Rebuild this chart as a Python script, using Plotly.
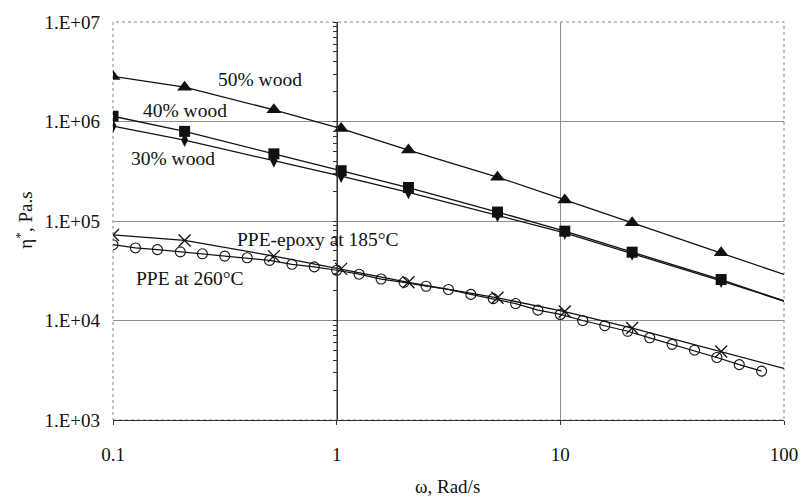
import plotly.graph_objects as go

# Angular frequency of the wood composite / PPE-epoxy sweeps (rad/s)
omega = [0.1, 0.209, 0.524, 1.047, 2.094, 5.236, 10.47, 20.94, 52.36]

# Complex viscosity, Pa.s
wood50 = [2.84e6, 2.21e6, 1.31e6, 8.5e5, 5.17e5, 2.76e5, 1.63e5, 9.6e4, 4.8e4]
wood40 = [1.13e6, 7.96e5, 4.73e5, 3.2e5, 2.17e5, 1.23e5, 7.9e4, 4.86e4, 2.58e4]
wood30 = [9.0e5, 6.5e5, 4.04e5, 2.83e5, 1.94e5, 1.14e5, 7.6e4, 4.7e4, 2.5e4]
ppe_epoxy = [7.24e4, 6.38e4, 4.44e4, 3.3e4, 2.42e4, 1.69e4, 1.23e4, 8.4e3, 4.88e3]

# Fitted curves are carried on to the end of the frequency axis
omega_end = 100
wood50_end = 2.9e4
wood40_end = 1.57e4
wood30_end = 1.57e4
ppe_epoxy_end = 3.3e3

# Neat PPE at 260 °C, ten points per decade
omega_ppe = [0.1, 0.126, 0.158, 0.2, 0.251, 0.316, 0.398, 0.501, 0.631, 0.794,
             1.0, 1.26, 1.58, 2.0, 2.51, 3.16, 3.98, 5.01, 6.31, 7.94,
             10.0, 12.6, 15.8, 20.0, 25.1, 31.6, 39.8, 50.1, 63.1, 79.4]
ppe = [5.78e4, 5.36e4, 5.16e4, 4.90e4, 4.68e4, 4.44e4, 4.27e4, 4.02e4, 3.67e4, 3.46e4,
       3.20e4, 2.92e4, 2.61e4, 2.42e4, 2.21e4, 2.05e4, 1.83e4, 1.66e4, 1.48e4, 1.27e4,
       1.15e4, 1.0e4, 8.87e3, 7.8e3, 6.7e3, 5.76e3, 5.03e3, 4.25e3, 3.6e3, 3.1e3]

x_ticks = [0.1, 1, 10, 100]
x_tick_text = ["0.1", "1", "10", "100"]
y_ticks = [1e3, 1e4, 1e5, 1e6, 1e7]
y_tick_text = ["1.E+03", "1.E+04", "1.E+05", "1.E+06", "1.E+07"]

FONT = "Liberation Serif, Times New Roman, serif"
INK = "#111111"

fig = go.Figure()


def fit_line(y_vals, y_end, yaxis="y"):
    fig.add_trace(go.Scatter(
        x=omega + [omega_end], y=y_vals + [y_end], mode="lines",
        line=dict(color=INK, width=1.3), yaxis=yaxis,
        showlegend=False, hoverinfo="skip"))


fit_line(wood50, wood50_end)
fit_line(wood40, wood40_end)
fit_line(wood30, wood30_end, yaxis="y2")
fit_line(ppe_epoxy, ppe_epoxy_end)

fig.add_trace(go.Scatter(
    x=omega_ppe, y=ppe, mode="lines+markers",
    line=dict(color=INK, width=1.2),
    marker=dict(symbol="circle-open", size=10, color=INK, line=dict(width=1.1)),
    name="PPE at 260°C", showlegend=False))

fig.add_trace(go.Scatter(
    x=omega, y=ppe_epoxy, mode="markers",
    marker=dict(symbol="x-thin-open", size=12, color=INK, line=dict(width=1.3, color=INK)),
    name="PPE-epoxy at 185°C", showlegend=False))

fig.add_trace(go.Scatter(
    x=omega, y=wood30, mode="markers",
    marker=dict(symbol="diamond-tall", size=10, color=INK),
    name="30% wood", showlegend=False))

fig.add_trace(go.Scatter(
    x=omega, y=wood40, mode="markers",
    marker=dict(symbol="square", size=11, color=INK),
    name="40% wood", showlegend=False))

fig.add_trace(go.Scatter(
    x=omega, y=wood50, mode="markers",
    marker=dict(symbol="triangle-up", size=13, color=INK),
    name="50% wood", showlegend=False))

# Curve labels placed beside each data set
labels = [
    ("50% wood", 0.2188, 0.8547),
    ("40% wood", 0.1072, 0.7783),
    ("30% wood", 0.0896, 0.6576),
    ("PPE-epoxy at 185°C", 0.3054, 0.4532),
    ("PPE at 260°C", 0.1145, 0.3547),
]
for text, px, py in labels:
    fig.add_annotation(text=text, x=px, y=py, xref="paper", yref="paper",
                       xanchor="center", yanchor="middle",
                       showarrow=False, font=dict(family=FONT, size=19.5, color=INK))

# Axis titles
fig.add_annotation(text="ω, Rad/s", x=0.499, y=-0.167, xref="paper", yref="paper",
                   xanchor="center", yanchor="middle",
                   showarrow=False, font=dict(family=FONT, size=19, color=INK))
fig.add_annotation(text="η<sup>*</sup>, Pa.s", x=-0.132, y=0.502, xref="paper", yref="paper",
                   xanchor="center", yanchor="middle",
                   showarrow=False, textangle=-90, font=dict(family=FONT, size=19, color=INK))

# Dotted frame around the plotting area
fig.add_shape(type="rect", xref="paper", yref="paper", x0=0, y0=0, x1=1, y1=1,
              line=dict(color="#8a8a8a", width=1, dash="dot"), layer="below")

minor_vals = [m * 10 ** e for e in range(3, 7) for m in range(1, 10)] + [1e7]

fig.update_layout(
    width=810, height=499,
    margin=dict(l=113, r=16, t=14, b=79),
    paper_bgcolor="white", plot_bgcolor="white",
    font=dict(family=FONT, size=19, color=INK),
    xaxis=dict(
        type="log", range=[-1, 2],
        tickvals=x_ticks, ticktext=x_tick_text,
        showgrid=True, gridcolor="#8f8f8f", gridwidth=1,
        showline=True, linecolor="#333333", linewidth=1,
        ticks="outside", ticklen=4, tickcolor="#333333",
        ticklabelstandoff=13, zeroline=False,
    ),
    yaxis=dict(
        type="log", range=[3, 7],
        tickvals=y_ticks, ticktext=y_tick_text,
        showgrid=True, gridcolor="#8f8f8f", gridwidth=1,
        showline=False, ticks="", ticklabelstandoff=12, zeroline=False,
    ),
    # Value axis crossing at ω = 1 with its minor tick marks
    yaxis2=dict(
        type="log", range=[3, 7], overlaying="y", anchor="free",
        position=1 / 3, side="left",
        tickvals=minor_vals, showticklabels=False,
        ticks="outside", ticklen=4, tickcolor="#333333",
        showline=True, linecolor="#333333", linewidth=1,
        showgrid=False, zeroline=False,
    ),
)

fig.write_html("out.html")
